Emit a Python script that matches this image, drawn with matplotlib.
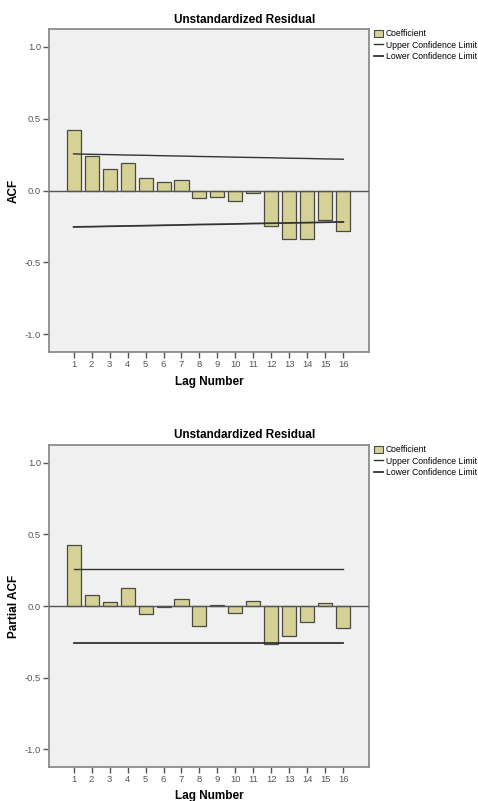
import matplotlib
matplotlib.use("Agg")
import matplotlib.pyplot as plt
from matplotlib.patches import Patch
from matplotlib.lines import Line2D
import numpy as np

plt.rcParams['font.family'] = ['Liberation Sans', 'DejaVu Sans']

lags = list(range(1, 17))
acf = [0.42, 0.243, 0.151, 0.192, 0.086, 0.056, 0.072, -0.049,
       -0.044, -0.076, -0.018, -0.245, -0.338, -0.338, -0.204, -0.280]
acf_upper = [0.255, 0.252, 0.250, 0.247, 0.245, 0.242, 0.240, 0.237,
             0.235, 0.232, 0.230, 0.228, 0.225, 0.223, 0.220, 0.218]
acf_lower = [-0.254, -0.252, -0.249, -0.247, -0.245, -0.242, -0.240, -0.237,
             -0.235, -0.233, -0.230, -0.228, -0.226, -0.224, -0.221, -0.219]

pacf = [0.425, 0.077, 0.030, 0.127, -0.054, -0.004, 0.047, -0.141,
        0.005, -0.051, 0.033, -0.265, -0.209, -0.115, 0.023, -0.155]
pacf_upper = [0.262] * 16
pacf_lower = [-0.262] * 16

title = "Unstandardized Residual"
yticks = [-1.0, -0.5, 0.0, 0.5, 1.0]

bar_face = "#D6D196"
bar_edge = "#4a4a40"
frame_col = "#8c8c8c"
bg = "#F0F0F0"

fig = plt.figure(figsize=(4.78, 8.01), dpi=100)

def draw(rect, vals, up, lo, ylabel, title_y, xlabel_y):
    ax = fig.add_axes(rect)
    ax.set_facecolor(bg)
    ax.bar(lags, vals, width=0.78, color=bar_face, edgecolor=bar_edge,
           linewidth=0.9, zorder=2, label="Coefficient")
    ax.axhline(0, color="#555555", linewidth=1.0, zorder=3)
    ax.plot(lags, up, color="#333333", linewidth=1.0, zorder=4,
            label="Upper Confidence Limit")
    ax.plot(lags, lo, color="#333333", linewidth=1.3, zorder=4,
            label="Lower Confidence Limit")
    ax.set_xlim(-0.37, 17.43)
    ax.set_ylim(-1.125, 1.125)
    ax.set_xticks(lags)
    ax.set_xticklabels([str(l) for l in lags])
    ax.set_yticks(yticks)
    ax.set_yticklabels([f"{v:.1f}" for v in yticks])
    ax.tick_params(axis='both', direction='out', length=4.5, width=1.0,
                   color="#555555", labelsize=6.8, labelcolor="#555555", pad=1.2)
    for s in ax.spines.values():
        s.set_color(frame_col)
        s.set_linewidth(1.3)
    cy = rect[1] + rect[3] / 2
    fig.text(14 / 478, cy, ylabel, rotation=90, ha='center', va='center',
             fontsize=8.5, fontweight='bold')
    fig.text(245 / 478, 1 - title_y / 801, title, ha='center', va='center',
             fontsize=8.5, fontweight='bold')
    fig.text(209 / 478, 1 - xlabel_y / 801, "Lag Number", ha='center', va='center',
             fontsize=8.5, fontweight='bold')
    handles = [Patch(facecolor=bar_face, edgecolor=bar_edge, linewidth=0.8),
               Line2D([], [], color="#333333", linewidth=1.0),
               Line2D([], [], color="#333333", linewidth=1.3)]
    labels = ["Coefficient", "Upper Confidence Limit", "Lower Confidence Limit"]
    ax.legend(handles, labels, loc='upper left', bbox_to_anchor=(1.01, 1.005),
              frameon=False, fontsize=6.2, handlelength=1.1, handleheight=0.9,
              handletextpad=0.25, labelspacing=0.3, borderaxespad=0.0,
              borderpad=0.2)
    return ax

draw([49 / 478, 1 - 352 / 801, 320 / 478, 323 / 801], acf, acf_upper, acf_lower,
     "ACF", 20, 382)
draw([49 / 478, 1 - 767 / 801, 320 / 478, 322 / 801], pacf, pacf_upper, pacf_lower,
     "Partial ACF", 435, 796)

fig.savefig("out.png", dpi=100)
